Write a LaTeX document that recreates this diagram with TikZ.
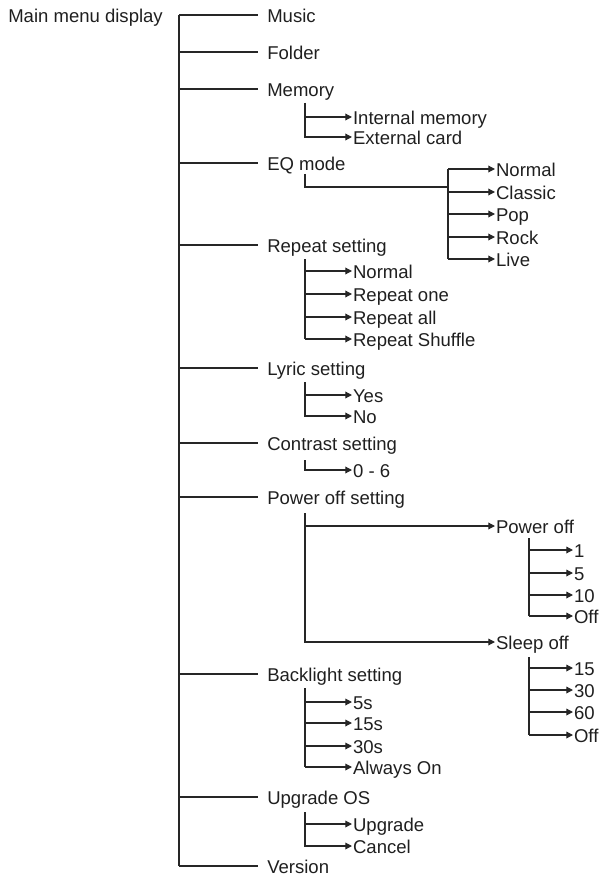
\documentclass[tikz,border=0pt]{standalone}
\usepackage{fontspec}
\setmainfont{Liberation Sans}
\usetikzlibrary{arrows.meta}
\begin{document}
\begin{tikzpicture}[x=0.75pt,y=-0.75pt,
  lbl/.style={anchor=west,inner xsep=0.6pt,inner ysep=0pt,text height=10.8pt,text depth=0pt,
    text=black!88,font=\fontsize{13.9}{16}\selectfont},
  toplbl/.style={lbl,inner xsep=6.75pt},
  wire/.style={line width=0.9pt,draw=black!85},
  arr/.style={wire,-{Triangle[length=5pt,width=5pt]}}]
\useasboundingbox (0,0) rectangle (603,877);
% root
\node[lbl,inner xsep=0pt] (main) at (8,15) {Main menu display};
\coordinate (T) at (179,15);
% level 1
\node[toplbl] (music) at (258,15) {Music};
\node[toplbl] (folder) at (258,52) {Folder};
\node[toplbl] (memory) at (258,89) {Memory};
\node[toplbl] (eq) at (258,163) {EQ mode};
\node[toplbl] (repeat) at (258,245) {Repeat setting};
\node[toplbl] (lyric) at (258,368) {Lyric setting};
\node[toplbl] (contrast) at (258,443) {Contrast setting};
\node[toplbl] (power) at (258,497) {Power off setting};
\node[toplbl] (backlight) at (258,674) {Backlight setting};
\node[toplbl] (upgrade) at (258,797) {Upgrade OS};
\node[toplbl] (version) at (258,866) {Version};
\draw[wire] (T) -- (T |- version.west);
\foreach \n in {music,folder,memory,eq,repeat,lyric,contrast,power,backlight,upgrade,version}
  \draw[wire] (T |- \n.west) -- (\n.west);
% memory
\node[lbl] (intmem) at (352,117) {Internal memory};
\node[lbl] (extcard) at (352,137) {External card};
\coordinate (memv) at (305,103);
\draw[arr] (memv) |- (intmem.west);
\draw[arr] (memv) |- (extcard.west);
% EQ mode
\node[lbl] (eqa) at (495,169) {Normal};
\node[lbl] (eqb) at (495,192) {Classic};
\node[lbl] (eqc) at (495,214) {Pop};
\node[lbl] (eqd) at (495,237) {Rock};
\node[lbl] (eqe) at (495,259) {Live};
\coordinate (eqv) at (305,174);
\coordinate (eqx) at (448,187);
\draw[wire] (eqv) |- (eqx);
\draw[wire] (eqx |- eqa.west) -- (eqx |- eqe.west);
\foreach \n in {eqa,eqb,eqc,eqd,eqe}
  \draw[arr] (eqx |- \n.west) -- (\n.west);
% repeat
\node[lbl] (rpa) at (352,271) {Normal};
\node[lbl] (rpb) at (352,294) {Repeat one};
\node[lbl] (rpc) at (352,317) {Repeat all};
\node[lbl] (rpd) at (352,339) {Repeat Shuffle};
\coordinate (rpv) at (305,259);
\draw[wire] (rpv) -- (rpv |- rpd.west);
\foreach \n in {rpa,rpb,rpc,rpd}
  \draw[arr] (rpv |- \n.west) -- (\n.west);
% lyric
\node[lbl] (lya) at (352,395) {Yes};
\node[lbl] (lyb) at (352,416) {No};
\coordinate (lyv) at (305,382);
\draw[arr] (lyv) |- (lya.west);
\draw[arr] (lyv) |- (lyb.west);
% contrast
\node[lbl] (cta) at (352,470) {0 - 6};
\coordinate (ctv) at (305,460);
\draw[arr] (ctv) |- (cta.west);
% power off
\node[lbl] (poff) at (495,526) {Power off};
\node[lbl] (soff) at (495,642) {Sleep off};
\coordinate (pwv) at (305,513);
\draw[arr] (pwv) |- (poff.west);
\draw[arr] (pwv) |- (soff.west);
\node[lbl] (poa) at (573,550) {1};
\node[lbl] (pob) at (573,573) {5};
\node[lbl] (poc) at (573,595) {10};
\node[lbl] (pod) at (573,616) {Off};
\coordinate (pov) at (529,538);
\draw[wire] (pov) -- (pov |- pod.west);
\foreach \n in {poa,pob,poc,pod}
  \draw[arr] (pov |- \n.west) -- (\n.west);
\node[lbl] (soa) at (573,668) {15};
\node[lbl] (sob) at (573,690) {30};
\node[lbl] (soc) at (573,712) {60};
\node[lbl] (sod) at (573,735) {Off};
\coordinate (sov) at (529,657);
\draw[wire] (sov) -- (sov |- sod.west);
\foreach \n in {soa,sob,soc,sod}
  \draw[arr] (sov |- \n.west) -- (\n.west);
% backlight
\node[lbl] (bla) at (352,702) {5s};
\node[lbl] (blb) at (352,723) {15s};
\node[lbl] (blc) at (352,746) {30s};
\node[lbl] (bld) at (352,767) {Always On};
\coordinate (blv) at (305,688);
\draw[wire] (blv) -- (blv |- bld.west);
\foreach \n in {bla,blb,blc,bld}
  \draw[arr] (blv |- \n.west) -- (\n.west);
% upgrade
\node[lbl] (upa) at (352,824) {Upgrade};
\node[lbl] (upb) at (352,846) {Cancel};
\coordinate (upv) at (305,812);
\draw[arr] (upv) |- (upa.west);
\draw[arr] (upv) |- (upb.west);
\end{tikzpicture}
\end{document}
